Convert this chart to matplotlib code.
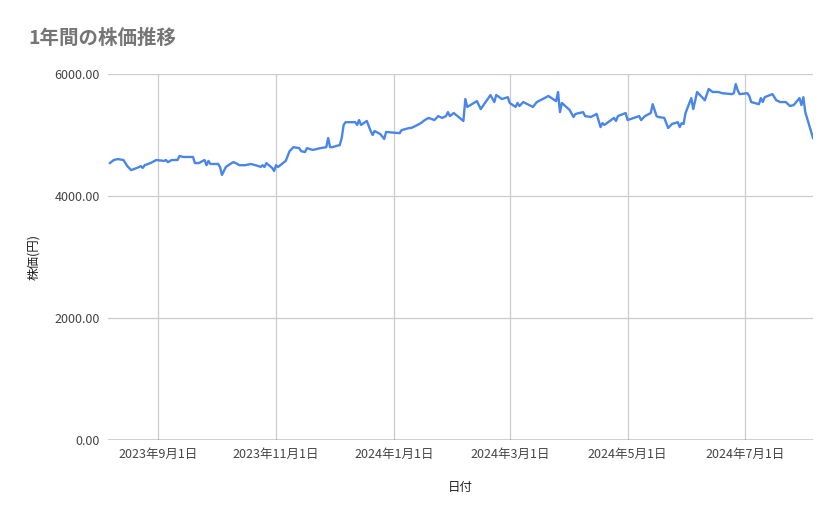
import matplotlib
matplotlib.use("Agg")
import matplotlib.pyplot as plt
import pandas as pd

plt.rcParams['font.family'] = ['Noto Sans CJK JP', 'DejaVu Sans']

dates = ["2023-08-07","2023-08-09","2023-08-11","2023-08-14","2023-08-16","2023-08-18","2023-08-21","2023-08-23","2023-08-24","2023-08-25",
"2023-08-28","2023-08-31","2023-09-04","2023-09-05","2023-09-06","2023-09-08","2023-09-11","2023-09-12","2023-09-14","2023-09-19",
"2023-09-20","2023-09-22","2023-09-25","2023-09-26","2023-09-27","2023-09-28","2023-10-02","2023-10-03","2023-10-04","2023-10-06",
"2023-10-09","2023-10-10","2023-10-12","2023-10-13","2023-10-16","2023-10-19","2023-10-23","2023-10-24","2023-10-25","2023-10-26",
"2023-10-27","2023-10-30","2023-10-31","2023-11-01","2023-11-02","2023-11-06","2023-11-07","2023-11-08","2023-11-10","2023-11-13",
"2023-11-14","2023-11-16","2023-11-17","2023-11-20","2023-11-22","2023-11-24","2023-11-27","2023-11-28","2023-11-29","2023-11-30",
"2023-12-04","2023-12-05","2023-12-06","2023-12-07","2023-12-11","2023-12-12","2023-12-13","2023-12-14","2023-12-15","2023-12-18",
"2023-12-20","2023-12-21","2023-12-22","2023-12-25","2023-12-27","2023-12-28","2024-01-04","2024-01-05","2024-01-09","2024-01-10",
"2024-01-12","2024-01-15","2024-01-17","2024-01-19","2024-01-22","2024-01-24","2024-01-26","2024-01-28","2024-01-29","2024-01-30",
"2024-02-01","2024-02-06","2024-02-07","2024-02-08","2024-02-13","2024-02-15","2024-02-20","2024-02-22","2024-02-23","2024-02-26",
"2024-02-29","2024-03-01","2024-03-04","2024-03-05","2024-03-06","2024-03-08","2024-03-13","2024-03-15","2024-03-19","2024-03-21",
"2024-03-25","2024-03-26","2024-03-27","2024-03-28","2024-04-01","2024-04-03","2024-04-04","2024-04-08","2024-04-09","2024-04-12",
"2024-04-15","2024-04-17","2024-04-18","2024-04-19","2024-04-24","2024-04-25","2024-04-26","2024-04-30","2024-05-01","2024-05-07",
"2024-05-08","2024-05-10","2024-05-13","2024-05-14","2024-05-16","2024-05-17","2024-05-20","2024-05-22","2024-05-24","2024-05-27",
"2024-05-28","2024-05-29","2024-05-30","2024-05-31","2024-06-03","2024-06-04","2024-06-06","2024-06-10","2024-06-12","2024-06-14",
"2024-06-17","2024-06-19","2024-06-24","2024-06-25","2024-06-26","2024-06-27","2024-06-28","2024-07-02","2024-07-03","2024-07-04",
"2024-07-08","2024-07-09","2024-07-10","2024-07-11","2024-07-15","2024-07-17","2024-07-18","2024-07-19","2024-07-22","2024-07-24",
"2024-07-26","2024-07-29","2024-07-30","2024-07-31","2024-08-01","2024-08-05"]

prices = [4540,4590,4605,4590,4490,4425,4460,4490,4460,4505,
4540,4590,4575,4590,4555,4590,4590,4655,4640,4640,
4540,4540,4590,4505,4575,4525,4525,4475,4345,4475,
4540,4555,4525,4505,4505,4525,4490,4475,4505,4475,
4540,4460,4410,4505,4475,4575,4655,4735,4800,4785,
4735,4720,4785,4755,4770,4785,4800,4950,4800,4800,
4835,4950,5165,5210,5210,5210,5165,5245,5165,5230,
5065,5000,5065,5015,4935,5050,5030,5080,5115,5115,
5145,5195,5245,5280,5245,5310,5280,5310,5375,5310,
5360,5230,5590,5460,5555,5425,5655,5540,5655,5590,
5620,5525,5460,5525,5475,5540,5460,5540,5605,5640,
5555,5705,5375,5525,5410,5295,5345,5375,5310,5295,
5345,5130,5195,5165,5280,5230,5310,5360,5245,5310,
5245,5310,5360,5505,5310,5295,5280,5115,5180,5210,
5130,5195,5180,5360,5605,5425,5705,5570,5755,5705,
5705,5685,5670,5685,5835,5735,5670,5685,5640,5540,
5505,5605,5540,5620,5670,5570,5555,5540,5540,5475,
5490,5605,5490,5620,5375,4950]

y_ticks = [0, 2000, 4000, 6000]
x_ticks = ["2023-09-01","2023-11-01","2024-01-01","2024-03-01","2024-05-01","2024-07-01"]

dts = pd.to_datetime(dates)
fig = plt.figure(figsize=(8.39, 5.19), dpi=100)
ax = fig.add_axes([108/839, 1-440/519, (813-108)/839, (440-74)/519])
ax.plot(dts, prices, color="#4a86e8", lw=1.7)
ax.set_xlim(pd.Timestamp("2023-08-06"), pd.Timestamp("2024-08-05"))
ax.set_ylim(0, 6000)
ax.set_yticks(y_ticks)
ax.set_yticklabels([f"{v:.2f}" for v in y_ticks])
xt = pd.to_datetime(x_ticks)
ax.set_xticks(xt)
ax.set_xticklabels([f"{d.year}年{d.month}月{d.day}日" for d in xt])
ax.grid(True, color="#cccccc", lw=0.9)
ax.set_axisbelow(True)
for s in ax.spines.values():
    s.set_visible(False)
ax.axhline(0, color="#333333", lw=1)
ax.tick_params(length=0, labelsize=9, colors="#444444", pad=6)
ax.set_xlabel("日付", fontsize=9, color="#222222", labelpad=14)
ax.set_ylabel("株価(円)", fontsize=9, color="#222222", labelpad=10)
fig.text(28/839, 1-38/519, "1年間の株価推移", fontsize=14, color="#757575", va="center", fontweight="bold")
fig.savefig("out.png", dpi=100)
